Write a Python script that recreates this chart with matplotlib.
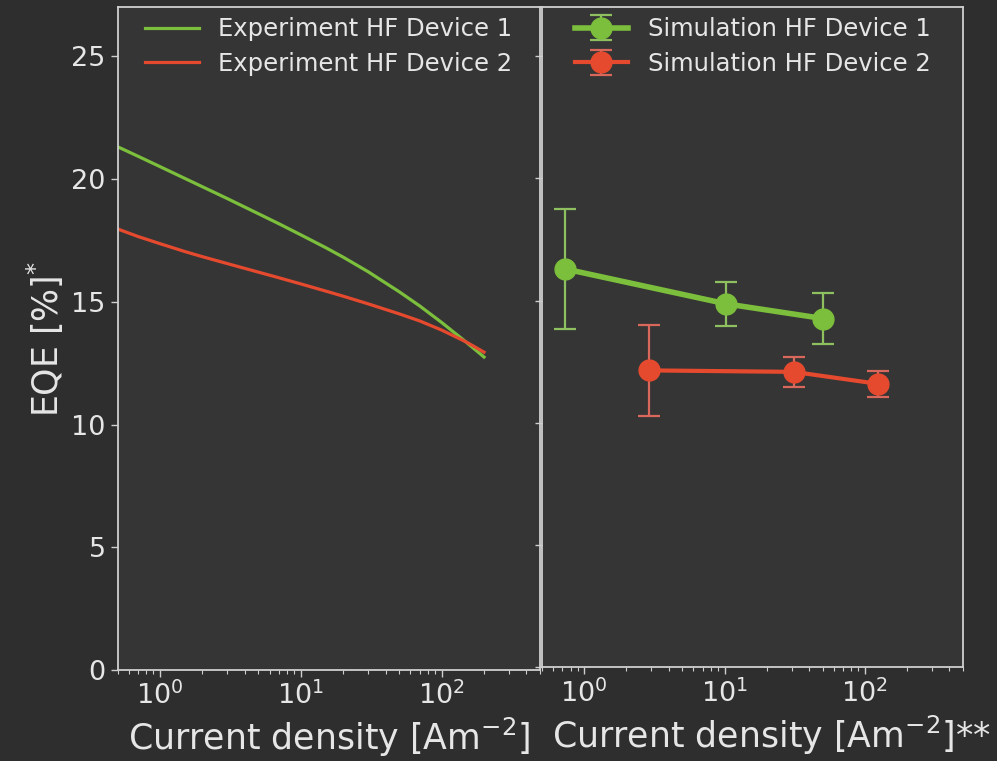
import matplotlib
matplotlib.use("Agg")
import matplotlib.pyplot as plt

# experiment curves
j_exp = [0.5, 0.7, 1, 1.5, 2, 3, 5, 7, 10, 15, 20, 30, 50, 70, 100, 150, 200]
eqe_exp_1 = [21.32, 20.93, 20.51, 20.03, 19.69, 19.21, 18.59, 18.18, 17.73, 17.21,
             16.82, 16.23, 15.41, 14.83, 14.16, 13.35, 12.75]
eqe_exp_2 = [17.97, 17.66, 17.37, 17.05, 16.84, 16.56, 16.21, 15.98, 15.73, 15.44,
             15.23, 14.92, 14.51, 14.22, 13.85, 13.36, 12.95]

# simulation points with error bars
j_sim_1 = [0.73, 10.3, 50.5]
eqe_sim_1 = [16.3, 14.87, 14.27]
err_sim_1 = [2.45, 0.9, 1.05]
j_sim_2 = [2.9, 31, 124]
eqe_sim_2 = [12.15, 12.09, 11.6]
err_sim_2 = [1.87, 0.6, 0.53]

green = '#7bbf3c'
red = '#e64a2e'
fg = '#e6e6e6'
spine = '#cfcfcf'

fig = plt.figure(figsize=(9.97, 7.61), dpi=100, facecolor='#2e2e2e')
ax1 = fig.add_axes([0.1179, 0.1196, 0.4238, 0.8708], facecolor='#353535')
ax2 = fig.add_axes([0.5436, 0.1229, 0.4223, 0.8675], facecolor='#353535')

ax1.plot(j_exp, eqe_exp_1, color=green, lw=2.3, label='Experiment HF Device 1')
ax1.plot(j_exp, eqe_exp_2, color=red, lw=2.3, label='Experiment HF Device 2')

ax2.errorbar(j_sim_1, eqe_sim_1, yerr=err_sim_1, color=green, lw=4, marker='o', ms=15,
             ecolor='#8fc060', elinewidth=1.6, capsize=8, capthick=1.6,
             label='Simulation HF Device 1')
ax2.errorbar(j_sim_2, eqe_sim_2, yerr=err_sim_2, color=red, lw=3, marker='o', ms=15,
             ecolor='#d8685c', elinewidth=1.6, capsize=8, capthick=1.6,
             label='Simulation HF Device 2')

for ax in (ax1, ax2):
    ax.set_xscale('log')
    ax.set_xlim(0.5, 500)
    ax.set_ylim(0, 27)
    ax.set_yticks([0, 5, 10, 15, 20, 25])
    for s in ax.spines.values():
        s.set_color(spine)
        s.set_linewidth(1.3)
    ax.tick_params(colors=spine, labelcolor=fg, labelsize=19.5, width=1, length=5)
    ax.tick_params(which='minor', colors=spine, width=0.8, length=3)
    leg = ax.legend(loc='upper center', frameon=False, fontsize=17.5,
                    labelspacing=0.45, borderaxespad=0.0, handlelength=2.2)
    for t in leg.get_texts():
        t.set_color(fg)

ax2.tick_params(axis='y', labelleft=False)

ax1.set_ylabel('EQE [%]$^{*}$', fontsize=25, color=fg)
ax1.set_xlabel('Current density [Am$^{-2}$]', fontsize=25, color=fg, labelpad=4)
ax2.set_xlabel('Current density [Am$^{-2}$]**', fontsize=25, color=fg, labelpad=4)
ax2.xaxis.label.set_x(0.545)

fig.savefig('out.png', dpi=100, facecolor=fig.get_facecolor())
